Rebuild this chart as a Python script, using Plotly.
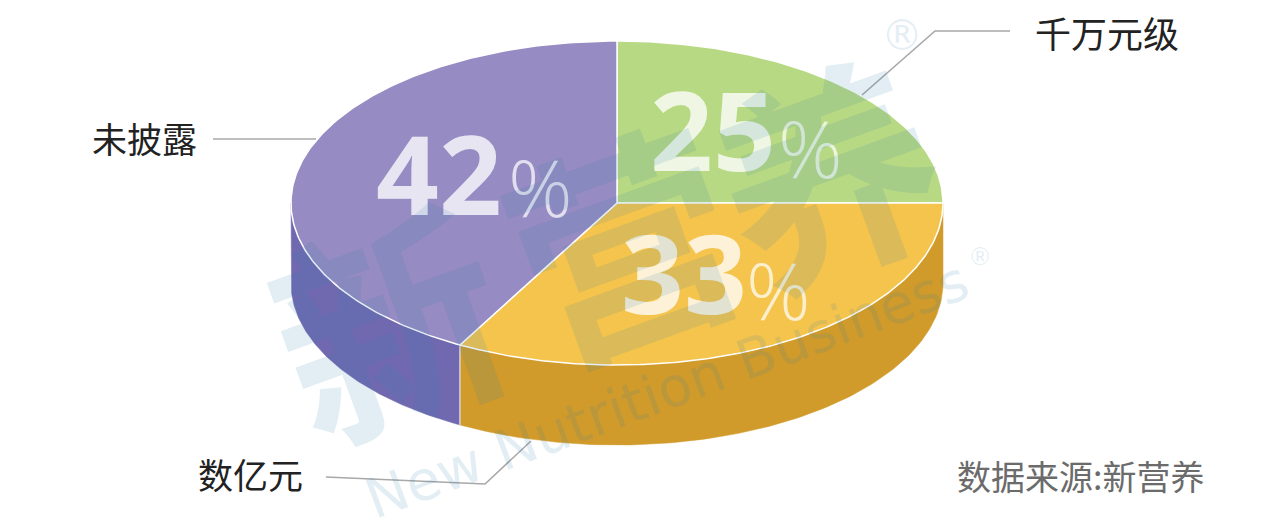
import numpy as np
import plotly.graph_objects as go

categories = ["千万元级", "数亿元", "未披露"]
shares = [25, 33, 42]
top_colors = ["#b8d983", "#f5c44d", "#978bc3"]
side_colors = ["#b8d983", "#d19b2b", "#7169b0"]

CX, CY, RX, RY, DEPTH = 617, 203, 326, 162, 80
WM = "rgba(40,120,170,0.13)"
CJK = "Noto Sans CJK SC"


def ell(deg, dy=0):
    t = np.radians(deg)
    return CX + RX * np.sin(t), CY - RY * np.cos(t) + dy


fig = go.Figure()
edges = np.cumsum([0] + shares) * 3.6

# Side walls (only the front half of the rim, 90-270 degrees, is visible)
for i in range(len(shares)):
    a, b = max(edges[i], 90), min(edges[i + 1], 270)
    if a >= b:
        continue
    t = np.linspace(a, b, 120)
    x1, y1 = ell(t)
    x2, y2 = ell(t[::-1], DEPTH)
    fig.add_trace(go.Scatter(x=np.r_[x1, x2, x1[0]], y=np.r_[y1, y2, y1[0]], mode="lines",
                             fill="toself", fillcolor=side_colors[i],
                             line=dict(color=side_colors[i], width=0.5), hoverinfo="skip"))

# Wall seam
sx, sy = ell(edges[2])
fig.add_trace(go.Scatter(x=[sx, sx], y=[sy, sy + DEPTH], mode="lines",
                         line=dict(color="#ffffff", width=1), hoverinfo="skip"))

# Top wedges
for i in range(len(shares)):
    t = np.linspace(edges[i], edges[i + 1], 200)
    x, y = ell(t)
    fig.add_trace(go.Scatter(x=np.r_[CX, x, CX], y=np.r_[CY, y, CY], mode="lines",
                             fill="toself", fillcolor=top_colors[i],
                             line=dict(color="#ffffff", width=1.5), hoverinfo="skip"))

annotations = []


def note(x, y, text, size, color, family=CJK, angle=0, weight=None):
    f = dict(size=size, color=color, family=family)
    if weight:
        f["weight"] = weight
    annotations.append(dict(x=x, y=y, xref="x", yref="y", text=text, showarrow=False,
                            font=f, textangle=angle, xanchor="center", yanchor="middle"))


# Percent labels
big_pos = [(713, 128), (684, 271), (439, 172)]
pct_pos = [(810, 146), (778, 288), (540, 185)]
for s, b, p in zip(shares, big_pos, pct_pos):
    note(b[0], b[1], str(s), 110, "rgba(255,255,255,0.78)", "Open Sans", weight=700)
    note(p[0], p[1], "%", 80, "rgba(255,255,255,0.72)", "Open Sans", weight=300)

# Category labels
note(1107, 32, categories[0], 36, "#222222")
note(250, 473, categories[1], 35, "#222222")
note(144, 137, categories[2], 35, "#222222")
note(1080, 475, "数据来源:新营养", 34, "#6b6b6b")

# Watermark
note(385, 315, "新", 225, WM, CJK, -20, 700)
note(620, 235, "营", 225, WM, CJK, -20, 700)
note(825, 165, "养", 220, WM, CJK, -20, 700)
note(667, 390, "New Nutrition Business", 55, WM, "DejaVu Sans", -20.5, 400)
note(902, 35, "®", 42, WM, "DejaVu Sans")
note(980, 257, "®", 24, WM, "DejaVu Sans")

line = dict(color="#a8a8a8", width=1.6)
shapes = [
    dict(type="path", path="M 862 95 L 935 31 L 1010 31", xref="x", yref="y", line=line),
    dict(type="path", path="M 213 139 L 316 139", xref="x", yref="y", line=line),
    dict(type="path", path="M 326 477 L 485 484 L 531 441", xref="x", yref="y", line=line),
]

# The page body has an 8 px margin, so the figure fills what is left of the window.
fig.update_layout(
    width=1272, height=519, margin=dict(l=0, r=0, t=0, b=0),
    paper_bgcolor="white", plot_bgcolor="white", showlegend=False,
    xaxis=dict(range=[8, 1280], visible=False, fixedrange=True),
    yaxis=dict(range=[527, 8], visible=False, fixedrange=True),
    annotations=annotations, shapes=shapes,
)
fig.write_html("out.html", config=dict(displayModeBar=False))
